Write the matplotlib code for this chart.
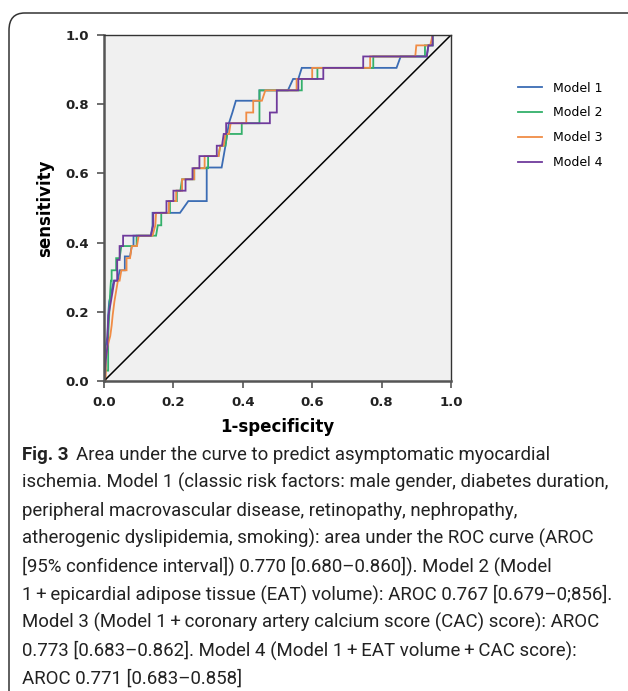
import matplotlib
matplotlib.use("Agg")
import matplotlib.pyplot as plt
from matplotlib.patches import FancyBboxPatch

# ---------------- data ----------------
models = ["Model 1", "Model 2", "Model 3", "Model 4"]

m1_fpr = [0, 0.005, 0.005, 0.01, 0.012, 0.015, 0.022, 0.028, 0.04, 0.045, 0.06, 0.06, 0.075, 0.08, 0.085, 0.085,
          0.135, 0.14, 0.14, 0.219, 0.243, 0.296, 0.296, 0.339, 0.35, 0.355, 0.36, 0.37, 0.38, 0.448, 0.448,
          0.53, 0.545, 0.56, 0.57, 0.843, 0.855, 0.93, 0.935, 0.947, 0.947, 1.0]
m1_tpr = [0, 0.03, 0.10, 0.13, 0.19, 0.23, 0.26, 0.29, 0.29, 0.32, 0.32, 0.36, 0.36, 0.39, 0.39, 0.42,
          0.42, 0.45, 0.486, 0.486, 0.52, 0.52, 0.617, 0.617, 0.68, 0.714, 0.745, 0.776, 0.81, 0.81, 0.84,
          0.84, 0.873, 0.873, 0.905, 0.905, 0.938, 0.938, 0.97, 0.97, 1.0, 1.0]

m2_fpr = [0, 0.0, 0.012, 0.012, 0.015, 0.018, 0.02, 0.022, 0.022, 0.035, 0.035, 0.045, 0.05, 0.094, 0.094,
          0.15, 0.155, 0.165, 0.165, 0.19, 0.19, 0.21, 0.21, 0.22, 0.225, 0.26, 0.26, 0.3, 0.3, 0.33, 0.335,
          0.35, 0.355, 0.397, 0.397, 0.448, 0.448, 0.57, 0.57, 0.615, 0.615, 0.776, 0.776, 0.925, 0.925,
          0.947, 0.947, 1.0]
m2_tpr = [0, 0.03, 0.03, 0.13, 0.19, 0.26, 0.29, 0.29, 0.32, 0.32, 0.355, 0.355, 0.39, 0.39, 0.42,
          0.42, 0.45, 0.45, 0.486, 0.486, 0.52, 0.52, 0.55, 0.55, 0.583, 0.583, 0.615, 0.615, 0.65, 0.65, 0.68,
          0.68, 0.714, 0.714, 0.745, 0.745, 0.84, 0.84, 0.873, 0.873, 0.905, 0.905, 0.938, 0.938, 0.97,
          0.97, 1.0, 1.0]

m3_fpr = [0, 0.005, 0.005, 0.01, 0.018, 0.022, 0.025, 0.03, 0.035, 0.04, 0.045, 0.05, 0.065, 0.065, 0.075,
          0.08, 0.095, 0.1, 0.14, 0.148, 0.15, 0.187, 0.187, 0.208, 0.208, 0.225, 0.225, 0.26, 0.26, 0.29,
          0.29, 0.33, 0.335, 0.345, 0.35, 0.36, 0.365, 0.41, 0.41, 0.43, 0.43, 0.455, 0.465, 0.555, 0.555,
          0.6, 0.6, 0.767, 0.767, 0.897, 0.9, 0.94, 0.947, 1.0]
m3_tpr = [0, 0.0, 0.06, 0.10, 0.13, 0.16, 0.19, 0.23, 0.26, 0.29, 0.29, 0.32, 0.32, 0.355, 0.355,
          0.39, 0.39, 0.42, 0.42, 0.45, 0.486, 0.486, 0.52, 0.52, 0.55, 0.55, 0.583, 0.583, 0.615, 0.615,
          0.65, 0.65, 0.68, 0.68, 0.714, 0.714, 0.745, 0.745, 0.776, 0.776, 0.81, 0.81, 0.84, 0.84, 0.873,
          0.873, 0.905, 0.905, 0.938, 0.938, 0.97, 0.97, 1.0, 1.0]

m4_fpr = [0, 0.005, 0.01, 0.01, 0.013, 0.02, 0.025, 0.03, 0.038, 0.038, 0.045, 0.045, 0.055, 0.055,
          0.135, 0.142, 0.142, 0.18, 0.18, 0.2, 0.2, 0.235, 0.235, 0.255, 0.255, 0.275, 0.275, 0.325, 0.325,
          0.34, 0.345, 0.352, 0.352, 0.478, 0.478, 0.498, 0.498, 0.56, 0.56, 0.632, 0.632, 0.747, 0.747,
          0.93, 0.935, 0.947, 0.947, 1.0]
m4_tpr = [0, 0.06, 0.10, 0.13, 0.19, 0.23, 0.26, 0.29, 0.29, 0.35, 0.35, 0.39, 0.39, 0.42,
          0.42, 0.45, 0.486, 0.486, 0.52, 0.52, 0.55, 0.55, 0.583, 0.583, 0.615, 0.615, 0.65, 0.65, 0.68,
          0.68, 0.714, 0.714, 0.745, 0.745, 0.776, 0.776, 0.84, 0.84, 0.873, 0.873, 0.905, 0.905, 0.938,
          0.938, 0.97, 0.97, 1.0, 1.0]

ticks = [0.0, 0.2, 0.4, 0.6, 0.8, 1.0]
tick_labels = ["0.0", "0.2", "0.4", "0.6", "0.8", "1.0"]

caption_head = "Fig. 3"
caption_first = "Area under the curve to predict asymptomatic myocardial"
caption_lines = [
    "ischemia. Model 1 (classic risk factors: male gender, diabetes duration,",
    "peripheral macrovascular disease, retinopathy, nephropathy,",
    "atherogenic dyslipidemia, smoking): area under the ROC curve (AROC",
    "[95% confidence interval]) 0.770 [0.680\u20130.860]). Model 2 (Model",
    "1\u2009+\u2009epicardial adipose tissue (EAT) volume): AROC 0.767 [0.679\u20130;856].",
    "Model 3 (Model 1\u2009+\u2009coronary artery calcium score (CAC) score): AROC",
    "0.773 [0.683\u20130.862]. Model 4 (Model 1\u2009+\u2009EAT volume\u2009+\u2009CAC score):",
    "AROC 0.771 [0.683\u20130.858]",
]

colors = ["#3b6cb4", "#33b06a", "#f08c45", "#6f3a9c"]

# ---------------- figure ----------------
W, H = 628, 691
fig = plt.figure(figsize=(W / 100, H / 100), dpi=100)

frame = FancyBboxPatch((9 / W, -20 / H), (W + 20) / W, (H - 13 + 20) / H,
                       boxstyle="round,pad=0,rounding_size=0.025",
                       transform=fig.transFigure, fill=False,
                       edgecolor="#333333", linewidth=1.1)
fig.patches.append(frame)

ax = fig.add_axes([104 / W, 1 - 381 / H, 347 / W, 346 / H])
ax.set_facecolor("#f0f0f0")

for fpr, tpr, lab, c in zip([m1_fpr, m2_fpr, m3_fpr, m4_fpr],
                            [m1_tpr, m2_tpr, m3_tpr, m4_tpr], models, colors):
    ax.plot(fpr, tpr, color=c, lw=1.3, label=lab, solid_joinstyle="miter")

ax.plot([0, 1], [0, 1], color="black", lw=1.1)

ax.set_xlim(0, 1)
ax.set_ylim(0, 1)
ax.set_xticks(ticks)
ax.set_yticks(ticks)
ax.set_xticklabels(tick_labels)
ax.set_yticklabels(tick_labels)
ax.tick_params(direction="out", length=5, width=1.2, color="#555555",
               labelsize=9.5, pad=6)
for lab in ax.get_xticklabels() + ax.get_yticklabels():
    lab.set_fontweight("bold")
    lab.set_color("#222222")
for side in ["left", "bottom"]:
    ax.spines[side].set_linewidth(1.8)
    ax.spines[side].set_color("#555555")
for side in ["top", "right"]:
    ax.spines[side].set_linewidth(1.0)
    ax.spines[side].set_color("#333333")

ax.set_xlabel("1-specificity", fontsize=12, fontweight="bold", labelpad=6)
ax.set_ylabel("sensitivity", fontsize=12, fontweight="bold", labelpad=8)

ax.legend(loc="upper left", bbox_to_anchor=(1.18, 0.88), frameon=False,
          fontsize=9, handlelength=1.9, handletextpad=0.9, labelspacing=0.95,
          borderaxespad=0)

# ---------------- caption ----------------
cap_font = ["Roboto", "DejaVu Sans"]
cap_size = 13.4
x0 = 22 / W
y_first = 1 - 455 / H
step = 27.9 / H
t = fig.text(x0, y_first, caption_head, fontsize=cap_size, fontweight="bold",
             family=cap_font, va="center", color="#222222")
fig.canvas.draw()
bb = t.get_window_extent()
fig.text(bb.x1 / W + 7 / W, y_first, caption_first, fontsize=cap_size,
         family=cap_font, va="center", color="#222222")
for i, line in enumerate(caption_lines):
    fig.text(x0, y_first - (i + 1) * step, line, fontsize=cap_size,
             family=cap_font, va="center", color="#222222")

fig.savefig("out.png", dpi=100)
